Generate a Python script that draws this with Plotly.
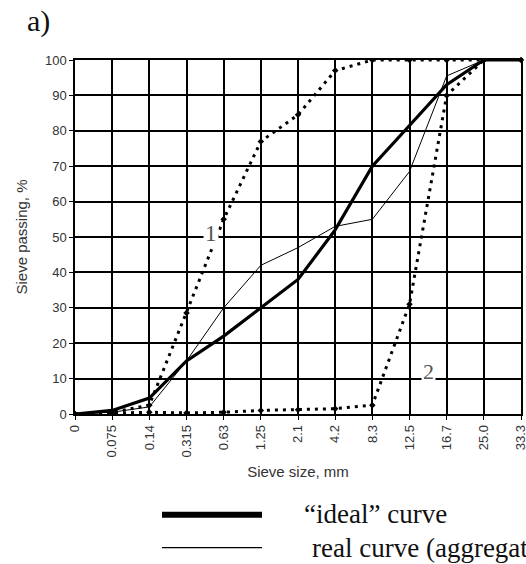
import plotly.graph_objects as go

sizes = ["0", "0.075", "0.14", "0.315", "0.63", "1.25", "2.1", "4.2", "8.3", "12.5", "16.7", "25.0", "33.3"]
ideal = [0, 1, 4.5, 15, 22, 30, 38, 52, 70, 81.5, 93, 100, 100]
real = [0, 0.5, 2, 15, 30, 42, 47, 53, 55, 68.5, 95.5, 100, 100]
curve1 = [0, 0.5, 2.5, 28.5, 55, 77, 84.5, 97, 100, 100, 100, 100]
curve2 = [0, 0.2, 0.5, 0.3, 0.5, 1, 1.2, 1.5, 2.5, 31, 90, 100]
y_ticks = list(range(0, 101, 10))

L, T, W, H = 75, 60, 446, 353.5


def px(x):
    return (x - L) / W


def py(y):
    return (T + H - y) / H


fig = go.Figure()
fig.add_trace(go.Scatter(x=sizes[:len(curve1)], y=curve1, mode="lines+markers",
                         line=dict(color="black", width=3, dash="3px,5px"),
                         marker=dict(color="black", size=5, symbol="diamond")))
fig.add_trace(go.Scatter(x=sizes[:len(curve2)], y=curve2, mode="lines+markers",
                         line=dict(color="black", width=3, dash="3px,5px"),
                         marker=dict(color="black", size=5, symbol="diamond")))
fig.add_trace(go.Scatter(x=sizes, y=real, mode="lines",
                         line=dict(color="black", width=1)))
fig.add_trace(go.Scatter(x=sizes, y=ideal, mode="lines",
                         line=dict(color="black", width=3.2)))
fig.add_trace(go.Scatter(x=[sizes[-1]], y=[ideal[-1]], mode="markers",
                         marker=dict(color="black", size=5, symbol="diamond"),
                         cliponaxis=False))

fig.update_layout(
    width=526, height=564,
    margin=dict(l=L, r=5, t=T, b=150, autoexpand=False),
    paper_bgcolor="white", plot_bgcolor="white",
    showlegend=False,
    font=dict(family="Liberation Sans, Arial", color="#333", size=13),
    xaxis=dict(type="category", range=[0, 12], showgrid=True, gridcolor="black",
               gridwidth=1.5, showline=True, linecolor="black", linewidth=1.5,
               mirror=True, ticks="outside", ticklen=4, tickcolor="black",
               tickangle=-90, tickfont=dict(size=13, color="#333"),
               title=dict(text="Sieve size, mm", font=dict(size=15, color="#333"), standoff=10),
               zeroline=False, fixedrange=True),
    yaxis=dict(range=[0, 100], tickvals=y_ticks, showgrid=True, gridcolor="black",
               gridwidth=1.5, showline=True, linecolor="black", linewidth=1.5,
               mirror=True, ticks="outside", ticklen=4, tickcolor="black",
               tickfont=dict(size=13, color="#333"),
               title=dict(text="Sieve passing, %", font=dict(size=15, color="#333"), standoff=14),
               zeroline=False, fixedrange=True),
)

fig.add_annotation(x=3.66, y=51, xref="x", yref="y", text="1", showarrow=False,
                   font=dict(family="Liberation Serif", size=23, color="#555"),
                   bgcolor="white", borderpad=1)
fig.add_annotation(x=9.52, y=12, xref="x", yref="y", text="2", showarrow=False,
                   font=dict(family="Liberation Serif", size=22, color="#555"),
                   bgcolor="white", borderpad=1)
fig.add_annotation(x=px(25), y=py(21), xref="paper", yref="paper", text="a)", showarrow=False,
                   font=dict(family="Liberation Serif", size=30, color="#111"),
                   xanchor="left", yanchor="middle")

# legend samples
fig.add_shape(type="line", xref="paper", yref="paper", x0=px(162), x1=px(262),
              y0=py(514), y1=py(514), line=dict(color="black", width=6))
fig.add_shape(type="line", xref="paper", yref="paper", x0=px(162), x1=px(262),
              y0=py(547), y1=py(547), line=dict(color="black", width=1.3))
fig.add_annotation(x=px(302), y=py(513), xref="paper", yref="paper",
                   text="\u201cideal\u201d curve", showarrow=False,
                   font=dict(family="Liberation Serif", size=27, color="#111"),
                   xanchor="left", yanchor="middle")
fig.add_annotation(x=px(310), y=py(547), xref="paper", yref="paper",
                   text="real curve (aggregate)", showarrow=False,
                   font=dict(family="Liberation Serif", size=27, color="#111"),
                   xanchor="left", yanchor="middle")

fig.write_html("out.html")
